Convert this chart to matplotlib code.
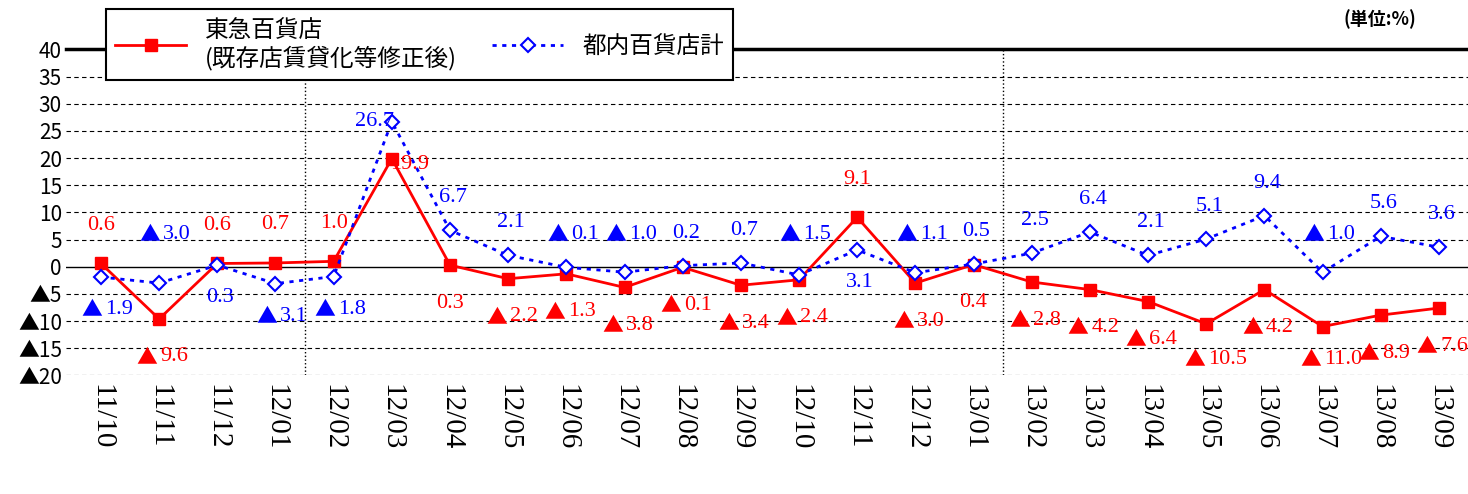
import matplotlib.pyplot as plt
import numpy as np

plt.rcParams['font.family'] = ['Noto Sans CJK JP', 'DejaVu Sans']

months = ["11/10", "11/11", "11/12", "12/01", "12/02", "12/03", "12/04", "12/05",
          "12/06", "12/07", "12/08", "12/09", "12/10", "12/11", "12/12", "13/01",
          "13/02", "13/03", "13/04", "13/05", "13/06", "13/07", "13/08", "13/09"]
tokyu = [0.6, -9.6, 0.6, 0.7, 1.0, 19.9, 0.3, -2.2, -1.3, -3.8, -0.1, -3.4,
         -2.4, 9.1, -3.0, 0.4, -2.8, -4.2, -6.4, -10.5, -4.2, -11.0, -8.9, -7.6]
tonai = [-1.9, -3.0, 0.3, -3.1, -1.8, 26.7, 6.7, 2.1, -0.1, -1.0, 0.2, 0.7,
         -1.5, 3.1, -1.1, 0.5, 2.5, 6.4, 2.1, 5.1, 9.4, -1.0, 5.6, 3.6]
yticks = list(range(-20, 45, 5))
# labels drawn on the opposite side of the point
flip_red = {5, 6, 15}
flip_blue = {1, 2, 8, 9, 12, 13, 14, 21}

SERIF = ['Liberation Serif', 'DejaVu Sans']


def label(ax, xi, y, v, color):
    txt = f"{abs(v):.1f}"
    if v < 0:
        ax.annotate("▲", (xi, y), xytext=(-1, 0), textcoords="offset points",
                    ha="right", va="center", color=color, fontsize=15)
        ax.annotate(txt, (xi, y), xytext=(1, 0), textcoords="offset points",
                    ha="left", va="center", color=color, fontsize=16, family=SERIF)
    else:
        ax.text(xi, y, txt, ha="center", va="center", color=color, fontsize=16, family=SERIF)


fig = plt.figure(figsize=(14.68, 4.94), dpi=100)
ax = fig.add_axes([0.045, 0.24, 0.955, 0.66])
x = np.arange(len(months))

ax.plot(x, tokyu, color="red", lw=2, marker="s", ms=8, label="東急百貨店\n(既存店賃貸化等修正後)")
ax.plot(x, tonai, color="blue", lw=2, ls=(0, (1.5, 2)), marker="D", ms=7,
        mfc="white", mec="blue", mew=1.5, label="都内百貨店計")

for i, v in enumerate(tokyu):
    up = (v >= 0) != (i in flip_red)
    y = v + 7 if up else max(v - 7, -17)
    if i == 5:
        label(ax, i + 0.3, v - 1, v, "red")
    else:
        label(ax, i, y, v, "red")
for i, v in enumerate(tonai):
    up = (v >= 0) != (i in flip_blue)
    y = max(v, 0) + 6 if up else v - 6
    if i == 5:
        label(ax, i - 0.3, v, v, "blue")
    else:
        label(ax, i + 0.05, y, v, "blue")

ax.set_xlim(-0.6, len(months) - 0.5)
ax.set_ylim(-20, 40)
ax.set_yticks(yticks)
ax.set_yticklabels([str(t) if t >= 0 else f"▲{-t}" for t in yticks], fontsize=15)
ax.set_xticks(x)
ax.set_xticklabels(months, rotation=-90, fontsize=21, family=SERIF)
ax.tick_params(length=0, pad=6)
ax.tick_params(axis="y", pad=3)
for t in yticks:
    if t != 0:
        ax.axhline(t, color="black", lw=0.8, ls=(0, (4, 3)), zorder=0)
ax.axhline(0, color="black", lw=1, zorder=0)
for xv in (3.5, 15.5):
    ax.axvline(xv, color="black", lw=1, ls=":", zorder=0)
ax.spines["top"].set_linewidth(2.5)
for s in ("left", "right", "bottom"):
    ax.spines[s].set_visible(False)

leg = fig.legend(loc="upper left", bbox_to_anchor=(0.064, 1.005), ncol=2, fontsize=17,
                 frameon=True, fancybox=False, edgecolor="black", handlelength=3,
                 columnspacing=1.5, framealpha=1)
leg.get_frame().set_linewidth(1.5)
fig.text(0.965, 0.95, "(単位:%)", ha="right", fontsize=13, weight="bold")

fig.savefig("out.png")
